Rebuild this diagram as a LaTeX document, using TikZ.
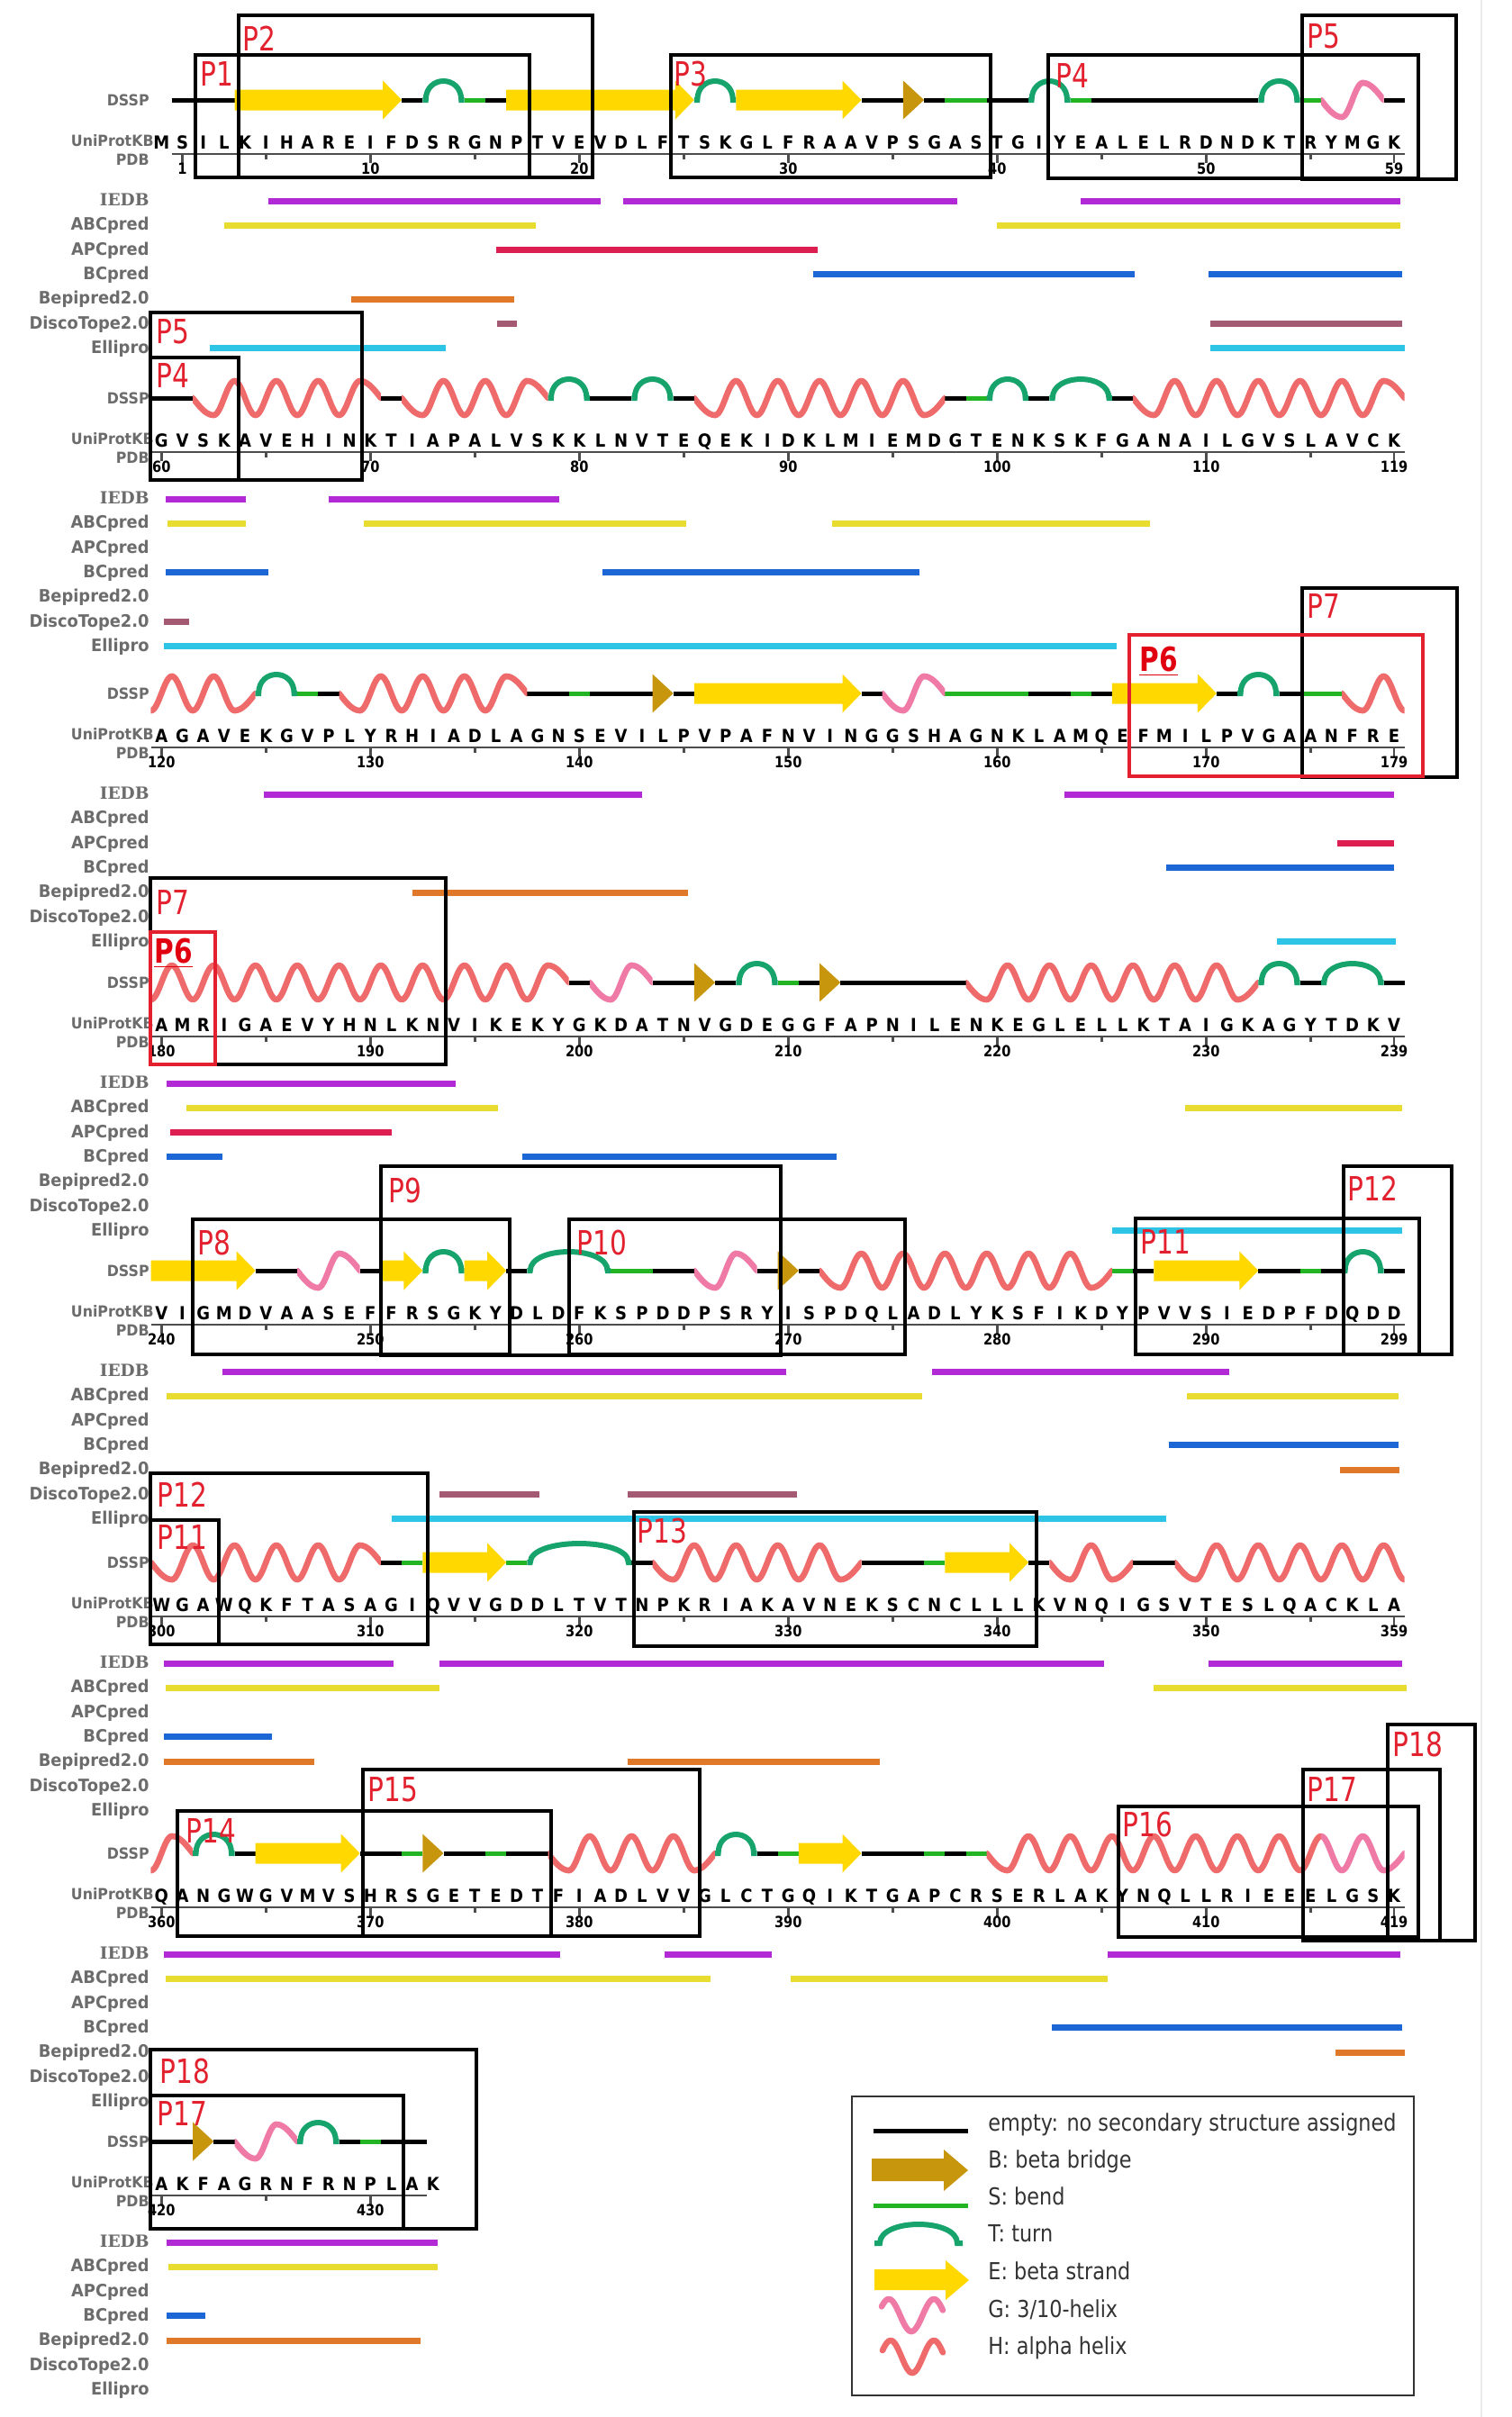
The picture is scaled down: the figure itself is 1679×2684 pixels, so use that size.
\documentclass[tikz,border=0pt]{standalone}
\usepackage{fontspec}
\setmainfont{DejaVu Sans}
\newfontfamily\labfont[FakeStretch=0.94]{DejaVu Sans}
\newfontfamily\serlab{DejaVu Serif}
\newfontfamily\smlfont[FakeStretch=0.93]{DejaVu Sans}
\newfontfamily\seqfont[FakeStretch=0.9]{DejaVu Sans}
\newfontfamily\numfont[FakeStretch=0.86]{DejaVu Sans}
\newfontfamily\pfont[FakeStretch=0.8]{DejaVu Sans}
\newfontfamily\legfont[FakeStretch=0.86]{DejaVu Sans}
\definecolor{cE}{HTML}{FFD800}
\definecolor{cB}{HTML}{C8960C}
\definecolor{cT}{HTML}{16A36C}
\definecolor{cS}{HTML}{22B422}
\definecolor{cG}{HTML}{F07AA6}
\definecolor{cH}{HTML}{EF6A6A}
\definecolor{cIEDB}{HTML}{B22AD6}
\definecolor{cABC}{HTML}{E8DC30}
\definecolor{cAPC}{HTML}{DC1E50}
\definecolor{cBC}{HTML}{1C66D6}
\definecolor{cBepi}{HTML}{E0782A}
\definecolor{cDisco}{HTML}{A45A72}
\definecolor{cElli}{HTML}{2EC4E6}
\definecolor{cLab}{HTML}{6C6C6C}
\definecolor{cLeg}{HTML}{333333}
\definecolor{cAx}{HTML}{4D4D4D}
\definecolor{cP}{HTML}{E2202E}
\definecolor{cP6}{HTML}{E00010}
\newcommand\RowD{0}
\newcommand\XP[1]{179.3+23.2*(#1)}
\newcommand\dsN[2]{\draw[dsl,black] ({\XP{#1}},\RowD) -- ({\XP{#2}},\RowD);}
\newcommand\dsS[2]{\draw[dsl,cS] ({\XP{#1}},\RowD) -- ({\XP{#2}},\RowD);}
\newcommand\dsT[2]{\draw[dst] ({\XP{#1}},\RowD) -- ({\XP{#1+0.15}},\RowD) .. controls ({\XP{#1+0.15}},{\RowD-28}) and ({\XP{#2-0.15}},{\RowD-28}) .. ({\XP{#2-0.15}},\RowD) -- ({\XP{#2}},\RowD);}
\newcommand\dsE[2]{\fill[cE] ({\XP{#1}},{\RowD-11.5}) -- ({\XP{#2}-21},{\RowD-11.5}) -- ({\XP{#2}-21},{\RowD-21.5}) -- ({\XP{#2}},\RowD) -- ({\XP{#2}-21},{\RowD+21.5}) -- ({\XP{#2}-21},{\RowD+11.5}) -- ({\XP{#1}},{\RowD+11.5}) -- cycle;}
\newcommand\dsB[2]{\fill[cB] ({\XP{#1}},{\RowD-21.5}) -- ({\XP{#2}},\RowD) -- ({\XP{#1}},{\RowD+21.5}) -- cycle;}
\newcommand\dsW[5]{%
\begin{scope}
\clip ({\XP{#4}},{\RowD-45}) rectangle ({\XP{#5}},{\RowD+45});
\draw[wv,#1] plot[domain={#2}:{#2+1},samples=16,variable=\xq] ({\XP{\xq}},{\RowD+19*sin(90*(\xq-(#2)))});
\draw[wv,#1] plot[domain={#2+1}:{#3-1},samples=300,variable=\xq] ({\XP{\xq}},{\RowD+19*cos(180*(\xq-(#2)-1))});
\draw[wv,#1] plot[domain={#3-1}:{#3},samples=16,variable=\xq] ({\XP{\xq}},{\RowD+19*cos(180*((#3)-(#2)-2))*cos(90*(\xq-(#3)+1))});
\end{scope}}
\newcommand\trk[4]{\draw[line width=3.5pt,#1] ({\XP{#3}},{\RowD+112+27.3*#2}) -- ({\XP{#4}},{\RowD+112+27.3*#2});}
\newcommand\tkL[2]{\draw[axl] ({\XP{#1}},{\RowD+60}) -- ({\XP{#1}},{\RowD+70}); \node[numL] (n\RowD-#1) at ({\XP{#1}},{\RowD+82}) {#2};}
\newcommand\tkS[1]{\draw[axl] ({\XP{#1}},{\RowD+60}) -- ({\XP{#1}},{\RowD+65.5});}
\newcommand\stdticks[1]{%
 \foreach \jj in {0,10,20,30,40,50,59} {\pgfmathtruncatemacro\tklab{#1+\jj}\tkL{\jj}{\tklab}}
 \foreach \jj in {5,15,25,35,45,55} {\tkS{\jj}}}
\newcommand\seqrow[1]{\foreach \sq [count=\qi from 0] in {#1} {\node[seqL] (s\RowD-\qi) at ({\XP{\qi}},{\RowD+54}) {\sq};}}
\newcommand\rowlabels{%
 \node[labS] (d\RowD) at (166,{\RowD+6}) {DSSP};
 \node[labS] (u\RowD) at (171,{\RowD+51}) {UniProtKB};
 \node[labS] (p\RowD) at (166,{\RowD+72.5}) {PDB};
 \node[labT,font=\serlab\bfseries\fontsize{9.3}{11}\selectfont] (t\RowD-0) at (166,{\RowD+117.5}) {IEDB};
 \foreach \trkname [count=\kk from 1] in {ABCpred,APCpred,BCpred,Bepipred2.0,DiscoTope2.0,Ellipro} {\node[labT] (t\RowD-\kk) at (166,{\RowD+117.5+27.3*\kk}) {\trkname};}}
\begin{document}
\begin{tikzpicture}[x=0.5pt,y=-0.5pt,
 dsl/.style={line width=2.5pt},
 dst/.style={line width=3pt,cT},
 wv/.style={line width=3.3pt,line cap=round,line join=round},
 axl/.style={line width=1.25pt,cAx},
 labT/.style={anchor=base east,inner sep=0pt,text=cLab,font=\labfont\bfseries\fontsize{9.5}{11}\selectfont},
 labS/.style={anchor=base east,inner sep=0pt,text=cLab,font=\smlfont\bfseries\fontsize{8.5}{10}\selectfont},
 seqL/.style={anchor=base,inner sep=0pt,font=\seqfont\bfseries\fontsize{10}{12}\selectfont},
 numL/.style={anchor=base,inner sep=0pt,font=\numfont\bfseries\fontsize{8.5}{10}\selectfont},
 plab/.style={anchor=north west,inner sep=0pt,text=cP,font=\pfont\fontsize{18.5}{20}\selectfont},
 plabB/.style={anchor=north west,inner sep=0pt,text=cP6,font=\pfont\bfseries\fontsize{18.5}{20}\selectfont},
 pbox/.style={line width=2pt,black},
 rbox/.style={line width=1.6pt,color=cP},
 legT/.style={anchor=base west,inner sep=0pt,text=cLeg,font=\legfont\fontsize{13}{15}\selectfont}]
\useasboundingbox (0,0) rectangle (1679,2684);
\fill[white] (0,0) rectangle (1679,2684);
\draw[line width=0.6pt,black!8] (1645,0) -- (1645,2684);

% ---------------- Row 0
\renewcommand\RowD{111}
\rowlabels
\draw[axl] ({\XP{0.5}},{\RowD+60}) -- ({\XP{59.5}},{\RowD+60});
\foreach \jj/\jl in {1/1,10/10,20/20,30/30,40/40,50/50,59/59} {\tkL{\jj}{\jl}}
\foreach \jj in {5,15,25,35,45,55} {\tkS{\jj}}
\seqrow{M,S,I,L,K,I,H,A,R,E,I,F,D,S,R,G,N,P,T,V,E,V,D,L,F,T,S,K,G,L,F,R,A,A,V,P,S,G,A,S,T,G,I,Y,E,A,L,E,L,R,D,N,D,K,T,R,Y,M,G,K}
\dsN{0.5}{3.5}\dsE{3.5}{11.5}\dsN{11.5}{12.5}\dsT{12.5}{14.5}\dsS{14.5}{15.5}\dsN{15.5}{16.5}\dsE{16.5}{25.5}\dsT{25.5}{27.5}\dsE{27.5}{33.5}\dsN{33.5}{35.5}\dsB{35.5}{36.5}\dsN{36.5}{37.5}\dsS{37.5}{39.5}\dsN{39.5}{41.5}\dsT{41.5}{43.5}\dsS{43.5}{44.5}\dsN{44.5}{52.5}\dsT{52.5}{54.5}\dsS{54.5}{55.5}\dsW{cG}{55.5}{58.5}{55.5}{58.5}\dsN{58.5}{59.5}
\trk{cIEDB}{0}{5.1}{21.0}\trk{cIEDB}{0}{22.1}{38.1}\trk{cIEDB}{0}{44.0}{59.3}
\trk{cABC}{1}{3.0}{17.9}\trk{cABC}{1}{40.0}{59.3}
\trk{cAPC}{2}{16.0}{31.4}
\trk{cBC}{3}{31.2}{46.6}\trk{cBC}{3}{50.1}{59.4}
\trk{cBepi}{4}{9.1}{16.9}
\trk{cDisco}{5}{16.05}{17.0}\trk{cDisco}{5}{50.2}{59.4}
\trk{cElli}{6}{2.3}{13.6}\trk{cElli}{6}{50.2}{59.5}

% ---------------- Row 1
\renewcommand\RowD{442}
\rowlabels
\draw[axl] ({\XP{-0.5}},{\RowD+60}) -- ({\XP{59.5}},{\RowD+60});
\stdticks{60}
\seqrow{G,V,S,K,A,V,E,H,I,N,K,T,I,A,P,A,L,V,S,K,K,L,N,V,T,E,Q,E,K,I,D,K,L,M,I,E,M,D,G,T,E,N,K,S,K,F,G,A,N,A,I,L,G,V,S,L,A,V,C,K}
\dsN{-0.5}{1.5}\dsN{10.5}{11.5}\dsN{20.5}{22.5}\dsN{24.5}{25.5}\dsN{37.5}{38.5}\dsS{38.5}{39.5}\dsN{41.5}{42.5}\dsN{45.5}{46.5}
\dsW{cH}{1.5}{10.5}{1.5}{10.5}\dsW{cH}{11.5}{18.5}{11.5}{18.5}\dsT{18.5}{20.5}\dsT{22.5}{24.5}\dsW{cH}{25.5}{37.5}{25.5}{37.5}\dsT{39.5}{41.5}\dsT{42.5}{45.5}\dsW{cH}{46.5}{59.5}{46.5}{59.5}
\trk{cIEDB}{0}{0.2}{4.05}\trk{cIEDB}{0}{8.0}{19.05}
\trk{cABC}{1}{0.28}{4.05}\trk{cABC}{1}{9.7}{25.1}\trk{cABC}{1}{32.1}{47.3}
\trk{cBC}{3}{0.19}{5.1}\trk{cBC}{3}{21.1}{36.3}
\trk{cDisco}{5}{0.12}{1.32}
\trk{cElli}{6}{0.12}{45.7}

% ---------------- Row 2
\renewcommand\RowD{770}
\rowlabels
\draw[axl] ({\XP{-0.5}},{\RowD+60}) -- ({\XP{59.5}},{\RowD+60});
\stdticks{120}
\seqrow{A,G,A,V,E,K,G,V,P,L,Y,R,H,I,A,D,L,A,G,N,S,E,V,I,L,P,V,P,A,F,N,V,I,N,G,G,S,H,A,G,N,K,L,A,M,Q,E,F,M,I,L,P,V,G,A,A,N,F,R,E}
\dsS{6.5}{7.5}\dsN{7.5}{8.5}\dsN{17.5}{19.5}\dsS{19.5}{20.5}\dsN{20.5}{23.5}\dsN{24.5}{25.5}\dsN{33.5}{34.5}\dsS{37.5}{41.5}\dsN{41.5}{43.5}\dsS{43.5}{44.5}\dsN{44.5}{45.5}\dsN{50.5}{51.5}\dsN{53.5}{54.5}\dsS{54.5}{56.5}
\dsW{cH}{-1.5}{4.5}{-0.5}{4.5}\dsT{4.5}{6.5}\dsW{cH}{8.5}{17.5}{8.5}{17.5}\dsB{23.5}{24.5}\dsE{25.5}{33.5}\dsW{cG}{34.5}{37.5}{34.5}{37.5}\dsE{45.5}{50.5}\dsT{51.5}{53.5}\dsW{cH}{56.5}{62}{56.5}{59.5}
\trk{cIEDB}{0}{4.9}{23.0}\trk{cIEDB}{0}{43.2}{59.0}
\trk{cAPC}{2}{56.3}{59.0}
\trk{cBC}{3}{48.1}{59.0}
\trk{cBepi}{4}{12.0}{25.2}
\trk{cElli}{6}{53.4}{59.1}

% ---------------- Row 3
\renewcommand\RowD{1091}
\rowlabels
\draw[axl] ({\XP{-0.5}},{\RowD+60}) -- ({\XP{59.5}},{\RowD+60});
\stdticks{180}
\seqrow{A,M,R,I,G,A,E,V,Y,H,N,L,K,N,V,I,K,E,K,Y,G,K,D,A,T,N,V,G,D,E,G,G,F,A,P,N,I,L,E,N,K,E,G,L,E,L,L,K,T,A,I,G,K,A,G,Y,T,D,K,V}
\dsN{19.5}{20.5}\dsN{23.5}{25.5}\dsN{26.5}{27.5}\dsS{29.5}{30.5}\dsN{30.5}{31.5}\dsN{32.5}{38.5}\dsN{54.5}{55.5}\dsN{58.5}{59.5}
\dsW{cH}{-3.5}{19.5}{-0.5}{19.5}\dsW{cG}{20.5}{23.5}{20.5}{23.5}\dsB{25.5}{26.5}\dsT{27.5}{29.5}\dsB{31.5}{32.5}\dsW{cH}{38.5}{52.5}{38.5}{52.5}\dsT{52.5}{54.5}\dsT{55.5}{58.5}
\trk{cIEDB}{0}{0.24}{14.1}
\trk{cABC}{1}{1.2}{16.1}\trk{cABC}{1}{49.0}{59.4}
\trk{cAPC}{2}{0.42}{11.0}
\trk{cBC}{3}{0.24}{2.9}\trk{cBC}{3}{17.25}{32.3}
\trk{cElli}{6}{45.5}{59.4}

% ---------------- Row 4
\renewcommand\RowD{1411}
\rowlabels
\draw[axl] ({\XP{-0.5}},{\RowD+60}) -- ({\XP{59.5}},{\RowD+60});
\stdticks{240}
\seqrow{V,I,G,M,D,V,A,A,S,E,F,F,R,S,G,K,Y,D,L,D,F,K,S,P,D,D,P,S,R,Y,I,S,P,D,Q,L,A,D,L,Y,K,S,F,I,K,D,Y,P,V,V,S,I,E,D,P,F,D,Q,D,D}
\dsN{4.5}{6.5}\dsN{9.5}{10.5}\dsN{16.5}{17.5}\dsS{21.5}{23.5}\dsN{23.5}{25.5}\dsN{28.5}{29.5}\dsN{30.5}{31.5}\dsS{45.5}{46.5}\dsN{46.5}{47.5}\dsN{52.5}{54.5}\dsS{54.5}{55.5}\dsN{55.5}{56.5}\dsN{58.5}{59.5}
\dsE{-0.5}{4.5}\dsW{cG}{6.5}{9.5}{6.5}{9.5}\dsE{10.5}{12.5}\dsT{12.5}{14.5}\dsE{14.5}{16.5}\dsT{17.5}{21.5}\dsW{cG}{25.5}{28.5}{25.5}{28.5}\dsB{29.5}{30.5}\dsW{cH}{31.5}{45.5}{31.5}{45.5}\dsE{47.5}{52.5}\dsT{56.5}{58.5}
\trk{cIEDB}{0}{2.9}{29.9}\trk{cIEDB}{0}{36.9}{51.1}
\trk{cABC}{1}{0.24}{36.4}\trk{cABC}{1}{49.1}{59.2}
\trk{cBC}{3}{48.2}{59.2}
\trk{cBepi}{4}{56.4}{59.25}
\trk{cDisco}{5}{13.3}{18.1}\trk{cDisco}{5}{22.3}{30.4}
\trk{cElli}{6}{11.0}{48.1}

% ---------------- Row 5
\renewcommand\RowD{1735}
\rowlabels
\draw[axl] ({\XP{-0.5}},{\RowD+60}) -- ({\XP{59.5}},{\RowD+60});
\stdticks{300}
\seqrow{W,G,A,W,Q,K,F,T,A,S,A,G,I,Q,V,V,G,D,D,L,T,V,T,N,P,K,R,I,A,K,A,V,N,E,K,S,C,N,C,L,L,L,K,V,N,Q,I,G,S,V,T,E,S,L,Q,A,C,K,L,A}
\dsN{10.5}{11.5}\dsS{11.5}{12.5}\dsS{16.5}{17.5}\dsN{22.5}{23.5}\dsN{33.5}{36.5}\dsS{36.5}{37.5}\dsN{41.5}{42.5}\dsN{46.5}{48.5}
\dsW{cH}{-0.5}{10.5}{-0.5}{10.5}\dsE{12.5}{16.5}\dsT{17.5}{22.5}\dsW{cH}{23.5}{33.5}{23.5}{33.5}\dsE{37.5}{41.5}\dsW{cH}{42.5}{46.5}{42.5}{46.5}\dsW{cH}{48.5}{62}{48.5}{59.5}
\trk{cIEDB}{0}{0.12}{11.1}\trk{cIEDB}{0}{13.3}{45.1}\trk{cIEDB}{0}{50.1}{59.4}
\trk{cABC}{1}{0.19}{13.3}\trk{cABC}{1}{47.5}{59.6}
\trk{cBC}{3}{0.12}{5.3}
\trk{cBepi}{4}{0.12}{7.3}\trk{cBepi}{4}{22.3}{34.4}

% ---------------- Row 6
\renewcommand\RowD{2058}
\rowlabels
\draw[axl] ({\XP{-0.5}},{\RowD+60}) -- ({\XP{59.5}},{\RowD+60});
\stdticks{360}
\seqrow{Q,A,N,G,W,G,V,M,V,S,H,R,S,G,E,T,E,D,T,F,I,A,D,L,V,V,G,L,C,T,G,Q,I,K,T,G,A,P,C,R,S,E,R,L,A,K,Y,N,Q,L,L,R,I,E,E,E,L,G,S,K}
\dsN{3.5}{4.5}\dsN{9.5}{11.5}\dsS{11.5}{12.5}\dsN{13.5}{15.5}\dsS{15.5}{16.5}\dsN{16.5}{18.5}\dsN{28.5}{29.5}\dsS{29.5}{30.5}\dsN{33.5}{36.5}\dsS{36.5}{37.5}\dsN{37.5}{38.5}\dsS{38.5}{39.5}
\dsW{cH}{-1.5}{1.5}{-0.5}{1.5}\dsT{1.5}{3.5}\dsE{4.5}{9.5}\dsB{12.5}{13.5}\dsW{cH}{18.5}{26.5}{18.5}{26.5}\dsT{26.5}{28.5}\dsE{30.5}{33.5}\dsW{cH}{39.5}{59.5}{39.5}{55.5}\dsW{cG}{39.5}{59.5}{55.5}{59.5}
\trk{cIEDB}{0}{0.12}{19.1}\trk{cIEDB}{0}{24.1}{29.2}\trk{cIEDB}{0}{45.3}{59.3}
\trk{cABC}{1}{0.19}{26.3}\trk{cABC}{1}{30.1}{45.3}
\trk{cBC}{3}{42.6}{59.4}
\trk{cBepi}{4}{56.2}{59.5}

% ---------------- Row 7
\renewcommand\RowD{2378}
\rowlabels
\draw[axl] ({\XP{-0.5}},{\RowD+60}) -- ({\XP{12.7}},{\RowD+60});
\tkL{0}{420}\tkL{10}{430}\tkS{5}
\seqrow{A,K,F,A,G,R,N,F,R,N,P,L,A,K}
\dsN{-0.5}{1.5}\dsN{2.5}{3.5}\dsN{8.5}{9.5}\dsS{9.5}{10.5}\dsN{10.5}{12.7}
\dsB{1.5}{2.5}\dsW{cG}{3.5}{6.5}{3.5}{6.5}\dsT{6.5}{8.5}
\trk{cIEDB}{0}{0.24}{13.2}
\trk{cABC}{1}{0.35}{13.2}
\trk{cBC}{3}{0.24}{2.1}
\trk{cBepi}{4}{0.24}{12.4}

% ---------------- Peptide boxes
\draw[pbox] (265,17) rectangle (658,197);
\draw[pbox] (217,61) rectangle (588,197);
\draw[pbox] (745,61) rectangle (1100,197);
\draw[pbox] (1164,61) rectangle (1575,198);
\draw[pbox] (1446,17) rectangle (1617,199);
\draw[pbox] (167,347) rectangle (402,533);
\draw[pbox] (167,397) rectangle (265,533);
\draw[pbox] (1446,653) rectangle (1618,863);
\draw[rbox] (1254,705) rectangle (1580,862);
\draw[pbox] (167,975) rectangle (495,1182);
\draw[rbox] (167,1035) rectangle (239,1182);
\draw[pbox] (214,1354) rectangle (566,1504);
\draw[pbox] (423,1295) rectangle (867,1505);
\draw[pbox] (632,1354) rectangle (1005,1504);
\draw[pbox] (1261,1353) rectangle (1576,1504);
\draw[pbox] (1492,1295) rectangle (1612,1504);
\draw[pbox] (167,1636) rectangle (475,1826);
\draw[pbox] (167,1688) rectangle (243,1826);
\draw[pbox] (704,1679) rectangle (1151,1828);
\draw[pbox] (197,2011) rectangle (612,2150);
\draw[pbox] (403,1965) rectangle (777,2150);
\draw[pbox] (1242,2006) rectangle (1575,2151);
\draw[pbox] (1447,1965) rectangle (1599,2155);
\draw[pbox] (1541,1915) rectangle (1638,2155);
\draw[pbox] (167,2276) rectangle (529,2475);
\draw[pbox] (167,2327) rectangle (448,2475);

% ---------------- Peptide labels
\node[plab] (P2a) at (269,29) {P2};
\node[plab] (P1a) at (222,68) {P1};
\node[plab] (P3a) at (748,68) {P3};
\node[plab] (P4a) at (1172,70) {P4};
\node[plab] (P5a) at (1451,26) {P5};
\node[plab] (P5b) at (173,354) {P5};
\node[plab] (P4b) at (173,403) {P4};
\node[plabB] (P6a) at (1265,718) {\underline{P6}};
\node[plab] (P7a) at (1451,659) {P7};
\node[plab] (P7b) at (173,988) {P7};
\node[plabB] (P6b) at (171,1042) {\underline{P6}};
\node[plab] (P9a) at (431,1308) {P9};
\node[plab] (P8a) at (219,1366) {P8};
\node[plab] (P10a) at (640,1366) {P10};
\node[plab] (P11a) at (1266,1365) {P11};
\node[plab] (P12a) at (1496,1306) {P12};
\node[plab] (P12b) at (174,1646) {P12};
\node[plab] (P11b) at (174,1693) {P11};
\node[plab] (P13a) at (707,1686) {P13};
\node[plab] (P15a) at (408,1973) {P15};
\node[plab] (P14a) at (206,2019) {P14};
\node[plab] (P16a) at (1246,2012) {P16};
\node[plab] (P17a) at (1451,1973) {P17};
\node[plab] (P18a) at (1546,1923) {P18};
\node[plab] (P18b) at (177,2286) {P18};
\node[plab] (P17b) at (174,2333) {P17};

% ---------------- Legend
\draw[line width=1pt,cLeg] (946,2328) rectangle (1570,2660);
\draw[line width=2.5pt,black] (970,2366) -- (1075,2366);
\fill[cB] (968,2397) -- (1048,2397) -- (1048,2387) -- (1075,2410) -- (1048,2433) -- (1048,2422) -- (968,2422) -- cycle;
\draw[line width=2.5pt,cS] (970,2449) -- (1075,2449);
\draw[dst] (971,2491) -- (977,2491) .. controls (977,2463) and (1063,2463) .. (1063,2491) -- (1069,2491);
\fill[cE] (971,2520) -- (1050,2520) -- (1050,2510) -- (1076,2532) -- (1050,2554) -- (1050,2543) -- (971,2543) -- cycle;
\draw[wv,cG] plot[domain=-8:60,samples=50,variable=\xq] ({987+\xq},{2571-18*cos(7.2*\xq)});
\draw[wv,cH] plot[domain=-9:58,samples=50,variable=\xq] ({989+\xq},{2617-18*cos(7.5*\xq)});
\node[legT] (L1) at (1097,2366) {empty: no secondary structure assigned};
\node[legT] (L2) at (1097,2407) {B: beta bridge};
\node[legT] (L3) at (1097,2448) {S: bend};
\node[legT] (L4) at (1097,2489.5) {T: turn};
\node[legT] (L5) at (1097,2531.5) {E: beta strand};
\node[legT] (L6) at (1097,2573) {G: 3/10-helix};
\node[legT] (L7) at (1097,2614) {H: alpha helix};
\end{tikzpicture}
\end{document}
